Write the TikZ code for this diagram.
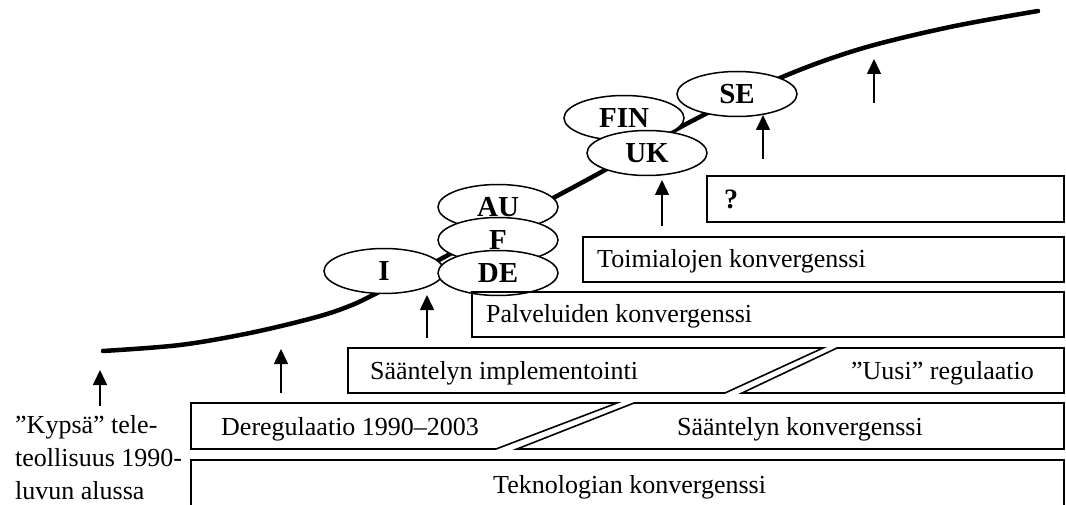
\documentclass[tikz,border=0pt]{standalone}
\usepackage{fontspec}
\setmainfont{Liberation Serif}
\usetikzlibrary{arrows.meta,shapes.geometric}
\begin{document}
\begin{tikzpicture}[x=1pt,y=-1pt,
  font=\fontsize{26}{33}\selectfont,
  boxline/.style={draw=black,line width=1.6pt,line join=miter},
  heavybox/.style={draw=black,line width=2.2pt,line join=miter},
  country/.style={ellipse,draw=black,line width=1.5pt,fill=white,
    minimum width=120pt,minimum height=45pt,inner sep=0pt,
    font=\fontsize{29}{32}\selectfont\bfseries},
  uparrow/.style={line width=1.5pt,-{Triangle[length=15pt,width=14pt]}},
  txt/.style={inner sep=0pt,anchor=base west},
  txtr/.style={inner sep=0pt,anchor=base east},
  scurve/.style={line width=4.5pt,line cap=round}
]
\useasboundingbox (0,0) rectangle (1066,505);
\clip (0,0) rectangle (1066,505);

% growth curve
\draw[scurve] plot[smooth,tension=0.55] coordinates {
  (103,351) (180,345) (250,333) (313,318) (347,307) (377,293)
  (450,254) (500,226) (555,197) (605,170) (690,122) (780,78)
  (860,49) (950,27) (1038,11)};

% country ellipses along the curve
\node[country] (AU) at (498,207) {AU};
\node[country] (F) at (498,240) {F};
\node[country] (I) at (384,271) {I};
\node[country] (DE) at (498,273) {DE};
\node[country] (FIN) at (624,118) {FIN};
\node[country] (UK) at (647,153) {UK};
\node[country] (SE) at (737,94) {SE};

% layered boxes
\draw[heavybox] (707,176) rectangle (1064,222);
\node[txt,font=\fontsize{28}{30}\selectfont\bfseries] (q) at (724,209) {?};

\draw[heavybox] (583,237) rectangle (1064,282);
\node[txt] (toim) at (597,268) {Toimialojen konvergenssi};

\draw[boxline] (472,292) rectangle (1064,337);
\node[txt] (palv) at (486,323) {Palveluiden konvergenssi};

\draw[boxline] (348,348) -- (823,348) -- (725,393) -- (348,393) -- cycle;
\node[txt] (impl) at (370,379) {Sääntelyn implementointi};
\draw[boxline] (837,348) -- (1064,348) -- (1064,393) -- (742,393) -- cycle;
\node[txtr] (uusi) at (1034,379) {”Uusi” regulaatio};

\draw[boxline] (191,403) -- (617,403) -- (496,449) -- (191,449) -- cycle;
\node[txt] (dereg) at (221,435) {Deregulaatio 1990–2003};
\draw[boxline] (634,403) -- (1064,403) -- (1064,449) -- (517,449) -- cycle;
\node[txtr] (skonv) at (923,435) {Sääntelyn konvergenssi};

\draw[heavybox] (191,512) -- (191,460) -- (1064,460) -- (1064,512);
\node[txt] (tekn) at (493,493) {Teknologian konvergenssi};

% starting point text
\node[txt] (k1) at (15,433) {”Kypsä” tele-};
\node[txt] (k2) at (15,466) {teollisuus 1990-};
\node[txt] (k3) at (15,499) {luvun alussa};

% arrows marking the phases
\coordinate (a1s) at (100,406); \coordinate (a1t) at (100,370);
\coordinate (a2s) at (281,393); \coordinate (a2t) at (281,349);
\coordinate (a3s) at (427,338); \coordinate (a3t) at (427,295);
\coordinate (a4s) at (662,226); \coordinate (a4t) at (662,180);
\coordinate (a5s) at (763,159); \coordinate (a5t) at (763,115);
\coordinate (a6s) at (874,103); \coordinate (a6t) at (874,59);
\draw[uparrow] (a1s) -- (a1t);
\draw[uparrow] (a2s) -- (a2t);
\draw[uparrow] (a3s) -- (a3t);
\draw[uparrow] (a4s) -- (a4t);
\draw[uparrow] (a5s) -- (a5t);
\draw[uparrow] (a6s) -- (a6t);
\end{tikzpicture}
\end{document}
